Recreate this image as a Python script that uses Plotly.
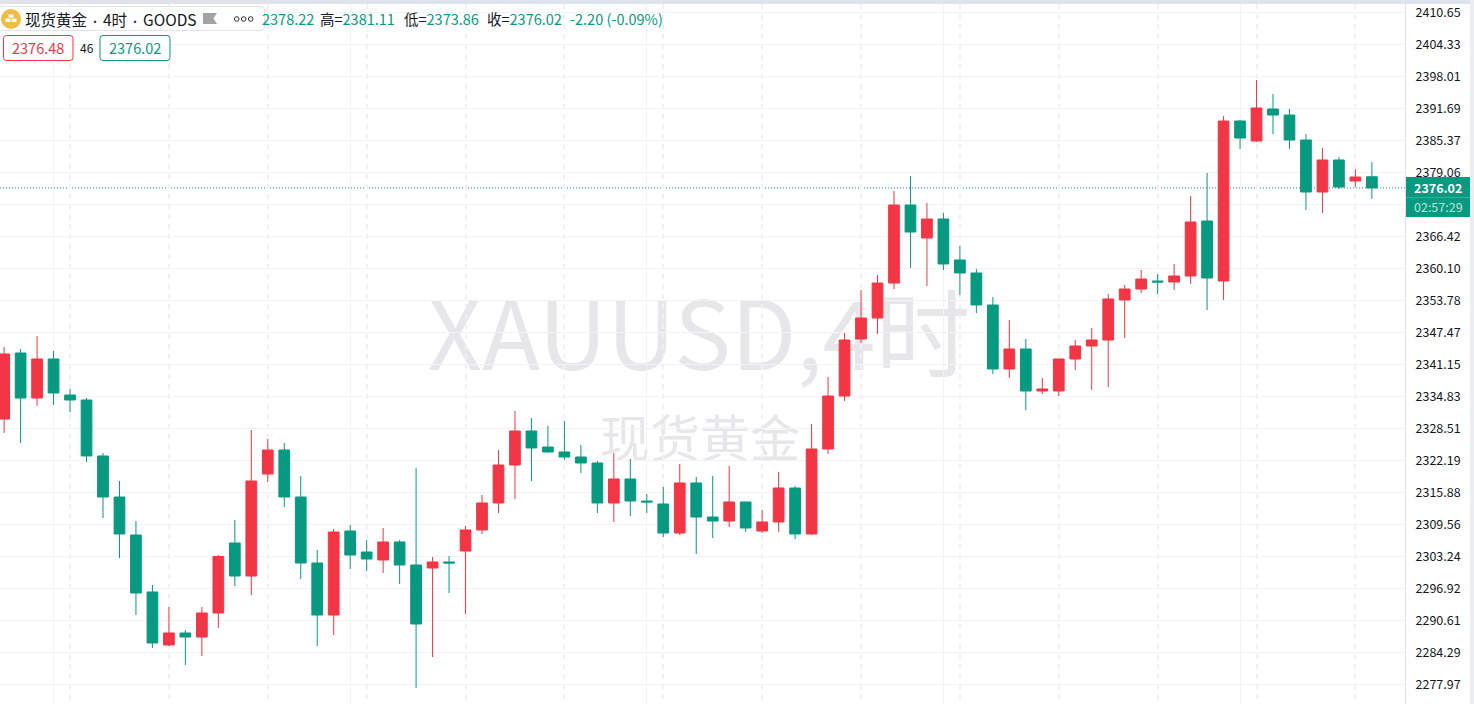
import plotly.graph_objects as go

candle_index = list(range(84))
open_prices = [2330.39, 2343.42, 2334.54, 2342.24, 2335.13, 2334.14, 2323.09, 2314.99, 2307.49, 2296.24, 2285.77, 2288.14, 2287.35, 2292.09, 2305.91, 2299.39, 2319.53, 2324.27, 2314.99, 2301.96, 2291.69,
               2308.28, 2304.13, 2302.55, 2306.11, 2301.57, 2300.97, 2302.16, 2304.33, 2308.48, 2313.81, 2321.31, 2328.02, 2324.86, 2323.88, 2322.89, 2321.71, 2313.81, 2318.55, 2314.20, 2313.61, 2307.88,
               2317.76, 2311.04, 2310.25, 2314.01, 2308.28, 2310.06, 2316.77, 2307.69, 2324.47, 2334.93, 2346.19, 2350.33, 2357.24, 2372.64, 2366.13, 2369.88, 2361.79, 2359.22, 2352.90, 2340.27, 2344.21,
               2335.92, 2335.92, 2342.24, 2344.81, 2345.99, 2353.89, 2356.06, 2357.64, 2357.44, 2358.63, 2369.49, 2357.64, 2389.23, 2385.28, 2391.60, 2390.41, 2385.48, 2375.21, 2381.53, 2377.38, 2378.22]
high_prices = [2344.61, 2344.21, 2346.78, 2343.82, 2336.32, 2334.54, 2323.68, 2318.15, 2310.25, 2297.62, 2293.27, 2288.73, 2293.27, 2303.54, 2310.45, 2328.22, 2326.44, 2325.65, 2319.14, 2304.53, 2308.67,
               2309.46, 2306.50, 2308.87, 2306.50, 2320.72, 2303.15, 2303.34, 2309.27, 2315.39, 2324.27, 2331.97, 2330.59, 2329.01, 2330.00, 2325.26, 2322.10, 2323.68, 2322.50, 2315.58, 2316.97, 2321.51,
               2318.94, 2319.14, 2321.11, 2314.01, 2312.43, 2319.93, 2317.16, 2329.41, 2338.69, 2347.37, 2355.86, 2358.82, 2375.41, 2378.37, 2373.04, 2371.07, 2364.55, 2360.01, 2354.48, 2349.94, 2346.19,
               2338.49, 2342.24, 2345.99, 2348.36, 2355.07, 2356.85, 2359.81, 2359.02, 2361.00, 2374.42, 2378.96, 2390.22, 2389.43, 2397.32, 2394.56, 2391.60, 2386.66, 2383.90, 2382.12, 2379.75, 2381.11]
low_prices = [2327.63, 2325.65, 2332.96, 2333.16, 2331.77, 2321.90, 2310.85, 2302.95, 2291.69, 2285.18, 2285.57, 2281.82, 2283.60, 2289.13, 2297.42, 2295.64, 2317.95, 2313.02, 2298.80, 2285.57, 2287.75,
              2300.78, 2300.38, 2299.99, 2297.82, 2277.28, 2283.40, 2296.04, 2291.89, 2307.69, 2311.83, 2314.60, 2318.15, 2323.68, 2322.30, 2319.73, 2311.83, 2310.06, 2311.24, 2311.83, 2307.09, 2307.49,
              2303.74, 2306.90, 2309.07, 2308.08, 2307.88, 2308.08, 2306.70, 2307.49, 2323.48, 2333.95, 2345.40, 2347.18, 2356.06, 2360.21, 2356.65, 2359.81, 2354.88, 2351.32, 2339.28, 2338.49, 2332.17,
              2335.33, 2334.93, 2340.07, 2336.12, 2336.71, 2346.39, 2355.27, 2355.07, 2355.86, 2357.05, 2351.91, 2353.89, 2383.70, 2385.08, 2386.66, 2383.70, 2371.66, 2371.07, 2375.80, 2376.20, 2373.86]
close_prices = [2343.23, 2334.54, 2342.24, 2335.53, 2334.14, 2323.09, 2314.99, 2307.69, 2296.04, 2286.17, 2288.14, 2287.35, 2292.09, 2303.24, 2299.39, 2318.15, 2324.27, 2314.99, 2301.96, 2291.69, 2308.08,
                2303.54, 2302.75, 2306.11, 2301.57, 2289.92, 2302.16, 2301.96, 2308.48, 2313.81, 2321.31, 2328.02, 2324.67, 2323.88, 2322.89, 2321.71, 2313.81, 2318.55, 2314.20, 2314.01, 2307.88, 2317.76,
                2311.04, 2310.25, 2314.01, 2308.87, 2310.06, 2316.77, 2307.69, 2324.47, 2334.93, 2345.99, 2350.33, 2357.24, 2372.64, 2367.31, 2369.88, 2361.00, 2359.22, 2352.90, 2340.27, 2344.21, 2335.92,
                2336.32, 2342.24, 2344.81, 2345.99, 2354.09, 2356.06, 2358.03, 2357.44, 2358.63, 2369.29, 2358.23, 2389.23, 2385.87, 2391.80, 2390.41, 2385.48, 2375.21, 2381.53, 2376.20, 2378.17, 2376.02]

price_ticks = [2410.65, 2404.33, 2398.01, 2391.69, 2385.37, 2379.06, 2372.74, 2366.42, 2360.10, 2353.78, 2347.47,
               2341.15, 2334.83, 2328.51, 2322.19, 2315.88, 2309.56, 2303.24, 2296.92, 2290.61, 2284.29, 2277.97]
price_labels = ["2410.65", "2404.33", "2398.01", "2391.69", "2385.37", "2379.06", "", "2366.42", "2360.10", "2353.78", "2347.47",
                "2341.15", "2334.83", "2328.51", "2322.19", "2315.88", "2309.56", "2303.24", "2296.92", "2290.61", "2284.29", "2277.97"]

header_title = '现货黄金<span style="font-size:11px"> · </span>4时<span style="font-size:11px"> · </span>GOODS'
bid_text, spread_text, ask_text = "2376.48", "46", "2376.02"
last_text, countdown_text = "2376.02", "02:57:29"

RED = "#F23645"
TEAL = "#089981"
DARK = "#131722"
GRID = "#F2F3F7"
BORDER = "#E0E3EB"
WATER = "#E7E7E9"
FONT = "Noto Sans CJK SC"
W, H = 1474, 704
PLOT_R, PLOT_T = 1405, 4


def fx(x):
    return x / W


def fy(y):
    return 1 - y / H


def paper_path(points, close=True):
    d = "M" + " L".join(f"{fx(x):.6f},{fy(y):.6f}" for x, y in points)
    return d + (" Z" if close else "")


def round_rect(x0, y0, x1, y1, r):
    parts = [f"M{fx(x0 + r):.6f},{fy(y0):.6f}", f"L{fx(x1 - r):.6f},{fy(y0):.6f}",
             f"Q{fx(x1):.6f},{fy(y0):.6f} {fx(x1):.6f},{fy(y0 + r):.6f}", f"L{fx(x1):.6f},{fy(y1 - r):.6f}",
             f"Q{fx(x1):.6f},{fy(y1):.6f} {fx(x1 - r):.6f},{fy(y1):.6f}", f"L{fx(x0 + r):.6f},{fy(y1):.6f}",
             f"Q{fx(x0):.6f},{fy(y1):.6f} {fx(x0):.6f},{fy(y1 - r):.6f}", f"L{fx(x0):.6f},{fy(y0 + r):.6f}",
             f"Q{fx(x0):.6f},{fy(y0):.6f} {fx(x0 + r):.6f},{fy(y0):.6f}", "Z"]
    return " ".join(parts)


def paper_shape(**kw):
    return dict(xref="paper", yref="paper", **kw)


def px_rect(x0, y0, x1, y1, fill, layer="above"):
    return paper_shape(type="rect", x0=fx(x0), x1=fx(x1), y0=fy(y1), y1=fy(y0), fillcolor=fill,
                       line=dict(width=0), layer=layer)


def px_circle(cx, cy, r, fill, line=None):
    return paper_shape(type="circle", x0=fx(cx - r), x1=fx(cx + r), y0=fy(cy + r), y1=fy(cy - r), fillcolor=fill,
                       line=dict(width=1, color=line) if line else dict(width=0))


def note(x, y, text, size=14, color=DARK, anchor="left", bold=False):
    return dict(xref="paper", yref="paper", x=fx(x), y=fy(y), text=f"<b>{text}</b>" if bold else text, showarrow=False,
                xanchor=anchor, yanchor="middle", align=anchor, font=dict(family=FONT, size=size, color=color),
                borderpad=0, borderwidth=0)


def watermark(cx, cy, text, size):
    return paper_shape(type="rect", x0=fx(cx - 400), x1=fx(cx + 400), y0=fy(cy + 60), y1=fy(cy - 60),
                       line=dict(width=0), fillcolor="rgba(0,0,0,0)", layer="below",
                       label=dict(text=text, textposition="middle center",
                                  font=dict(family=FONT, size=size, color=WATER)))


def val(text):
    return f'<span style="color:{TEAL}">{text}</span>'


fig = go.Figure(go.Candlestick(
    x=candle_index, open=open_prices, high=high_prices, low=low_prices, close=close_prices,
    increasing=dict(line=dict(color=RED, width=1), fillcolor=RED),
    decreasing=dict(line=dict(color=TEAL, width=1), fillcolor=TEAL),
    whiskerwidth=0,
))

shapes = [
    watermark(699, 343, "XAUUSD,4时", 95),
    watermark(700, 443, "现货黄金", 50),
    dict(type="line", xref="paper", yref="y", x0=0, x1=fx(PLOT_R), y0=close_prices[-1], y1=close_prices[-1],
         line=dict(color=TEAL, width=1, dash="1px,2px"), layer="below"),
    px_rect(0, 0, W, PLOT_T, BORDER),
    px_rect(1470, 0, W, H, "#ECEDF3"),
    px_rect(1406, 177, 1470, 217, TEAL),
    px_rect(1406, 197, 1470, 198, "#3BAD9A"),
    paper_shape(type="path", path=round_rect(-2, 6.5, 264.5, 30.5, 4), fillcolor="white", line=dict(color=BORDER, width=1)),
    px_circle(11, 19, 10, "#F0BC42"),
    px_rect(8.5, 14.5, 13.5, 17.5, "white"),
    px_rect(5.5, 18.5, 10.5, 22, "white"),
    px_rect(11.5, 18.5, 16.5, 22, "white"),
    paper_shape(type="path", path=paper_path([(203, 13), (217, 13), (213.5, 18.5), (217, 24), (203, 24)]),
                fillcolor="#A3A3A3", line=dict(width=0)),
    px_circle(236.7, 19, 2.3, "white", "#333333"),
    px_circle(243.7, 19, 2.3, "white", "#333333"),
    px_circle(250.7, 19, 2.3, "white", "#333333"),
    paper_shape(type="path", path=round_rect(3.5, 35.5, 73, 60.5, 3), fillcolor="white", line=dict(color=RED, width=1)),
    paper_shape(type="path", path=round_rect(100, 35.5, 170, 60.5, 3), fillcolor="white", line=dict(color=TEAL, width=1)),
]

annotations = [
    note(25, 19, header_title, size=15.5),
    note(262, 19, val("2378.22"), size=14.5),
    note(320, 19, "高=" + val("2381.11"), size=14.5),
    note(404, 19, "低=" + val("2373.86"), size=14.5),
    note(487, 19, "收=" + val("2376.02"), size=14.5),
    note(570, 19, val("-2.20 (-0.09%)"), size=14.5),
    note(38.2, 48, bid_text, size=14.5, color=RED, anchor="center"),
    note(87, 48, spread_text, size=12, anchor="center"),
    note(135, 48, ask_text, size=14.5, color=TEAL, anchor="center"),
    note(1438, 187, last_text, size=12.5, color="white", anchor="center", bold=True),
    note(1438, 207, countdown_text, size=12.5, color="#BDE5DD", anchor="center"),
]

fig.update_layout(
    width=W, height=H,
    margin=dict(l=0, r=0, t=0, b=0, pad=0),
    paper_bgcolor="white", plot_bgcolor="white",
    showlegend=False,
    boxgap=0.35, boxgroupgap=0,
    shapes=shapes,
    annotations=annotations,
    xaxis=dict(
        automargin=False,
        domain=[0, fx(PLOT_R)], range=[-0.25, 85.01], rangeslider=dict(visible=False),
        showticklabels=False, ticks="", zeroline=False, showline=False,
        showgrid=True, tick0=3, dtick=18, gridcolor=GRID, gridwidth=1,
        minor=dict(showgrid=True, tick0=4, dtick=6, gridcolor="#F0F1F6", gridwidth=2, griddash="5px,5px", ticks=""),
    ),
    yaxis=dict(
        automargin=False,
        domain=[0, fy(PLOT_T)], range=[2274.12, 2412.33], side="right", anchor="x",
        tickmode="array", tickvals=price_ticks, ticktext=price_labels,
        tickfont=dict(family=FONT, size=12.5, color=DARK),
        ticks="outside", ticklen=7, tickcolor="rgba(0,0,0,0)",
        showgrid=True, gridcolor=GRID, gridwidth=1, zeroline=False,
        showline=True, linecolor=BORDER, linewidth=1,
    ),
)

fig.write_html("out.html", config=dict(displayModeBar=False),
               post_script="document.body.style.margin='0';document.documentElement.style.overflow='hidden';")
